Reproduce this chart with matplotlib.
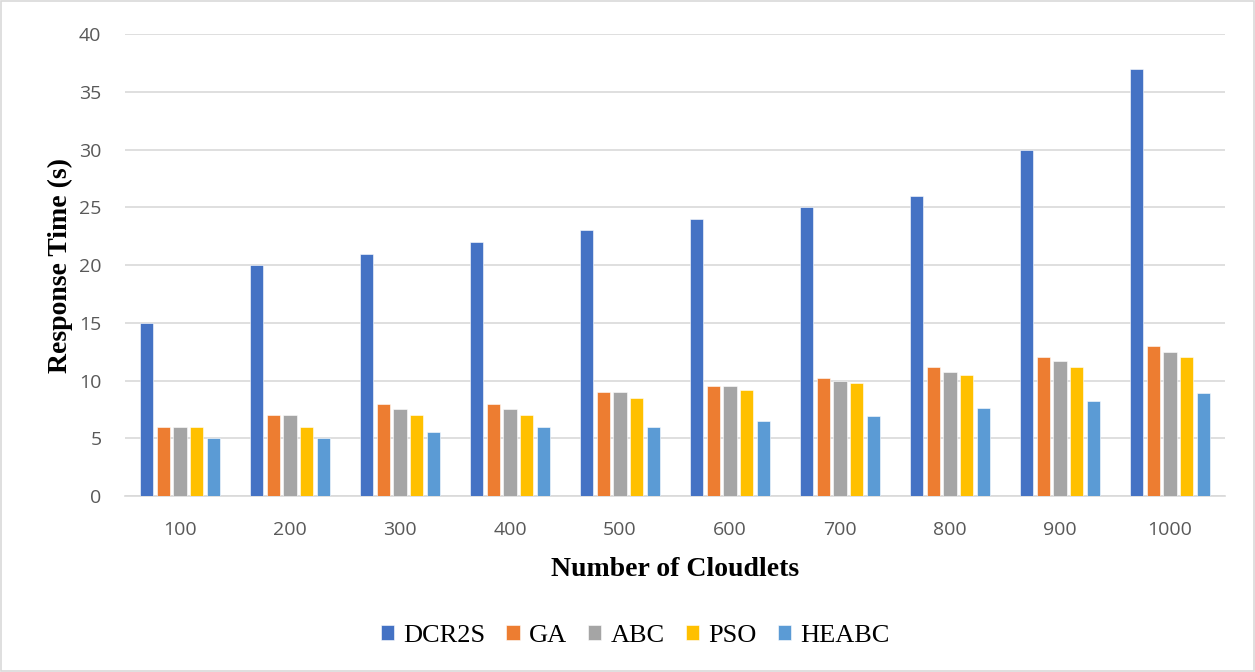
import numpy as np
import matplotlib
matplotlib.use('Agg')
import matplotlib.pyplot as plt
from matplotlib.patches import Rectangle

cloudlets = ['100', '200', '300', '400', '500', '600', '700', '800', '900', '1000']
dcr2s = [15, 20, 21, 22, 23, 24, 25, 26, 30, 37]
ga = [6, 7, 8, 8, 9, 9.5, 10.2, 11.2, 12, 13]
abc = [6, 7, 7.5, 7.5, 9, 9.5, 10, 10.7, 11.7, 12.5]
pso = [6, 6, 7, 7, 8.5, 9.2, 9.8, 10.5, 11.2, 12]
heabc = [5, 5, 5.5, 6, 6, 6.5, 6.9, 7.6, 8.2, 8.9]

series = [('DCR2S', dcr2s, '#4472C4'), ('GA', ga, '#ED7D31'), ('ABC', abc, '#A5A5A5'),
          ('PSO', pso, '#FFC000'), ('HEABC', heabc, '#5B9BD5')]

fig = plt.figure(figsize=(12.55, 6.72), dpi=100)
fig.patches.append(Rectangle((0.001, 0.0015), 0.998, 0.997, transform=fig.transFigure,
                             fill=False, edgecolor='#D9D9D9', linewidth=1.2))
ax = fig.add_axes([0.0996, 0.262, 0.8765, 0.687])

x = np.arange(len(cloudlets))
pitch = 0.152
width = 0.12
for k, (name, vals, color) in enumerate(series):
    ax.bar(x + (k - 2) * pitch, vals, width, color=color, label=name,
           edgecolor='white', linewidth=0.4, zorder=3)

ax.set_xlim(-0.5, 9.5)
ax.set_ylim(0, 40)
ax.set_yticks(range(0, 41, 5))
ax.set_xticks(x)
ax.set_xticklabels(cloudlets)
ax.grid(axis='y', color='#D9D9D9', linewidth=1.2, zorder=0)
for s in ['left', 'right', 'top']:
    ax.spines[s].set_visible(False)
ax.spines['bottom'].set_color('#D9D9D9')
ax.spines['bottom'].set_linewidth(1.2)
ax.tick_params(axis='both', length=0, labelsize=14, labelcolor='#595959')
ax.tick_params(axis='y', pad=17)
ax.tick_params(axis='x', pad=18)
for lab in ax.get_xticklabels() + ax.get_yticklabels():
    lab.set_family('Open Sans')

ax.set_ylabel('Response Time (s)', family='Liberation Serif', fontweight='bold',
              fontsize=20, labelpad=4)
ax.set_xlabel('Number of Cloudlets', family='Liberation Serif', fontweight='bold',
              fontsize=20, labelpad=13)

leg = fig.legend(loc='center', bbox_to_anchor=(0.506, 0.054), ncol=5, frameon=False,
                 prop={'family': 'Liberation Serif', 'size': 19},
                 handlelength=0.5, handleheight=0.5, handletextpad=0.35, columnspacing=0.8)

fig.savefig('out.png', dpi=100)
